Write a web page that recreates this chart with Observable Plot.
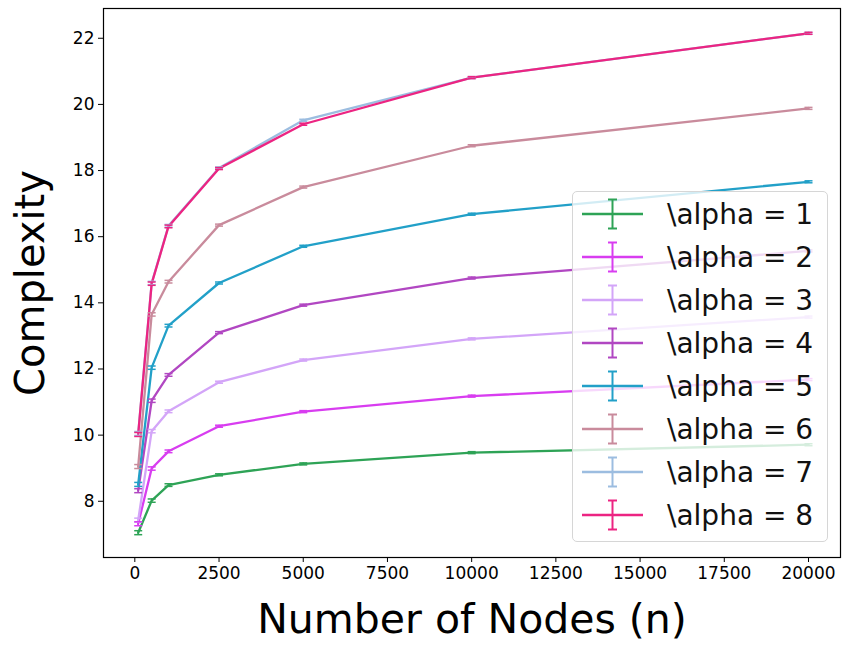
<!DOCTYPE html>
<html>
<head>
<meta charset="utf-8">
<script src="https://cdn.jsdelivr.net/npm/d3@7"></script>
<script src="https://cdn.jsdelivr.net/npm/@observablehq/plot@0.6"></script>
<style>
  html, body { margin: 0; padding: 0; background: #fff; }
  #wrap { position: relative; width: 846px; height: 645px; font-family: "DejaVu Sans", sans-serif; }
  #legend { position: absolute; left: 572px; top: 191px; width: 256px; height: 351px;
            box-sizing: border-box; border: 1.5px solid #d6d6d6; border-radius: 5px;
            background: rgba(255,255,255,0.8); }
</style>
</head>
<body>
<div id="wrap"></div>
<script>
const nodes = [100, 500, 1000, 2500, 5000, 10000, 20000];
const alphas = [1, 2, 3, 4, 5, 6, 7, 8];
const series1 = [7.05, 8.02, 8.49, 8.80, 9.13, 9.47, 9.71];
const series2 = [7.32, 8.99, 9.51, 10.27, 10.71, 11.18, 11.68];
const series3 = [7.43, 10.12, 10.72, 11.60, 12.27, 12.91, 13.57];
const series4 = [8.32, 11.04, 11.82, 13.10, 13.93, 14.75, 15.57];
const series5 = [8.51, 12.04, 13.31, 14.60, 15.71, 16.68, 17.66];
const series6 = [9.05, 13.65, 14.64, 16.35, 17.50, 18.75, 19.88];
const series7 = [10.05, 14.60, 16.33, 18.08, 19.52, 20.81, 22.15];
const series8 = [10.02, 14.58, 16.31, 18.06, 19.40, 20.81, 22.15];
const errors  = [0.06, 0.05, 0.04, 0.03, 0.03, 0.03, 0.03];
const colors = ["#2ea356", "#d83df0", "#d3a5f8", "#b147c2", "#22a0c8", "#c98b9c", "#9cbde0", "#ec2482"];
const xTicks = [0, 2500, 5000, 7500, 10000, 12500, 15000, 17500, 20000];
const yTicks = [8, 10, 12, 14, 16, 18, 20, 22];

const allSeries = [series1, series2, series3, series4, series5, series6, series7, series8];
const labels = alphas.map(a => `\\alpha = ${a}`);
const rows = alphas.flatMap((a, i) => nodes.map((n, j) => ({
  n, v: allSeries[i][j], e: errors[j], a: labels[i]
})));

const capSymbol = { draw(ctx) { ctx.moveTo(-4, 0); ctx.lineTo(4, 0); } };

const chart = Plot.plot({
  width: 846,
  height: 645,
  marginLeft: 103,
  marginRight: 6,
  marginTop: 8,
  marginBottom: 88,
  style: { fontFamily: "DejaVu Sans, sans-serif", color: "#000", background: "#fff" },
  x: { domain: [-930, 20950] },
  y: { domain: [6.3, 22.9] },
  color: { domain: labels, range: colors },
  marks: [
    Plot.line(rows, { x: "n", y: "v", z: "a", stroke: "a", strokeWidth: 2.3 }),
    Plot.ruleX(rows, { x: "n", y1: d => d.v - d.e, y2: d => d.v + d.e, stroke: "a", strokeWidth: 1.5 }),
    Plot.dot(rows, { x: "n", y: d => d.v - d.e, stroke: "a", symbol: capSymbol, strokeWidth: 1.5 }),
    Plot.dot(rows, { x: "n", y: d => d.v + d.e, stroke: "a", symbol: capSymbol, strokeWidth: 1.5 }),
    Plot.frame({ stroke: "#000", strokeWidth: 1.2 }),
    Plot.axisX({ ticks: xTicks, tickFormat: d => String(d), tickSize: 5, tickPadding: 4, fontSize: 17, label: null }),
    Plot.axisY({ ticks: yTicks, tickFormat: d => String(d), tickSize: 5, tickPadding: 4, fontSize: 17, label: null }),
    Plot.text(["Number of Nodes (n)"], { frameAnchor: "bottom", dy: 62, fontSize: 41, fill: "#000", lineAnchor: "middle", textAnchor: "middle" }),
    Plot.text(["Complexity"], { frameAnchor: "left", dx: -72, rotate: -90, fontSize: 40, fill: "#000", lineAnchor: "middle", textAnchor: "middle" })
  ]
});

const wrap = document.getElementById("wrap");
wrap.appendChild(chart);

// Legend
const legend = document.createElement("div");
legend.id = "legend";
wrap.appendChild(legend);
const lsvg = d3.select(legend).append("svg").attr("width", 256).attr("height", 351)
  .style("position", "absolute").style("left", "-1.5px").style("top", "-1.5px");
labels.forEach((lab, i) => {
  const cy = 23 + i * 43;
  const g = lsvg.append("g").attr("stroke", colors[i]).attr("stroke-width", 2);
  g.append("line").attr("x1", 10).attr("x2", 71).attr("y1", cy).attr("y2", cy).attr("stroke-width", 2.5);
  g.append("line").attr("x1", 40.5).attr("x2", 40.5).attr("y1", cy - 14.5).attr("y2", cy + 14.5);
  g.append("line").attr("x1", 36).attr("x2", 45).attr("y1", cy - 14.5).attr("y2", cy - 14.5);
  g.append("line").attr("x1", 36).attr("x2", 45).attr("y1", cy + 14.5).attr("y2", cy + 14.5);
  lsvg.append("text").attr("x", 95).attr("y", cy).attr("dy", "0.36em")
    .attr("font-size", 28).attr("font-family", "DejaVu Sans, sans-serif").attr("fill", "#111").text(lab);
});
</script>
</body>
</html>
